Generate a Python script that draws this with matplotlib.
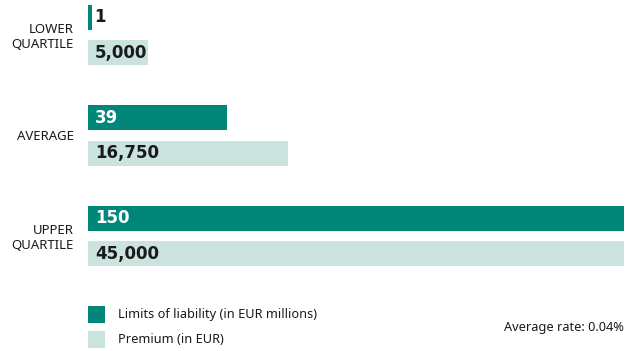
import matplotlib.pyplot as plt
from matplotlib.patches import Rectangle

plt.rcParams['font.family'] = ['Noto Sans', 'DejaVu Sans']

categories = ['LOWER\nQUARTILE', 'AVERAGE', 'UPPER\nQUARTILE']
limits = [1, 39, 150]            # EUR millions
premiums = [5000, 16750, 45000]  # EUR
limit_labels = ['1', '39', '150']
premium_labels = ['5,000', '16,750', '45,000']

DARK = '#00877a'
LIGHT = '#cae3df'
TEXT = '#1a1a1a'
VALUE_FONT = dict(family='DejaVu Sans', fontsize=12, fontweight='bold',
                  va='center', ha='left')

W, H = 638, 351
fig = plt.figure(figsize=(W / 100, H / 100), dpi=100)

# both series share one strip of the figure, each scaled to its own maximum
rect = [88 / W, (H - 300) / H, 536 / W, 300 / H]
ax_lim = fig.add_axes(rect)
ax_pre = fig.add_axes(rect, sharey=ax_lim)
ax_pre.patch.set_visible(False)

pos = list(range(len(categories)))
off = 0.175
h = 0.249

ax_lim.barh([p - off for p in pos], limits, height=h, color=DARK)
ax_pre.barh([p + off for p in pos], premiums, height=h, color=LIGHT)

ax_lim.set_xlim(0, max(limits))
ax_pre.set_xlim(0, max(premiums))
ax_lim.set_ylim(2.637, -0.348)

# value labels: inside the bar if it is wide enough, else just past its end
pad_lim = max(limits) * 7 / 536
pad_pre = max(premiums) * 7 / 536
for p, v, s in zip(pos, limits, limit_labels):
    if v / max(limits) > 0.1:
        ax_lim.text(pad_lim, p - off, s, color='white', **VALUE_FONT)
    else:
        ax_lim.text(v + max(limits) * 3 / 536, p - off, s, color=TEXT,
                    **VALUE_FONT)
for p, v, s in zip(pos, premiums, premium_labels):
    ax_pre.text(pad_pre, p + off, s, color=TEXT, **VALUE_FONT)

ax_lim.set_yticks(pos)
ax_lim.set_yticklabels(categories, fontsize=9.5, color=TEXT, ha='right',
                       multialignment='right', linespacing=1.15)
ax_lim.tick_params(axis='y', length=0, pad=10)
for a in (ax_lim, ax_pre):
    a.set_xticks([])
    for sp in a.spines.values():
        sp.set_visible(False)
ax_pre.tick_params(axis='y', left=False, labelleft=False)

# legend drawn by hand in figure pixels
for y0, col, lab in [(306, DARK, 'Limits of liability (in EUR millions)'),
                     (331, LIGHT, 'Premium (in EUR)')]:
    fig.add_artist(Rectangle((88 / W, (H - y0 - 17) / H), 17 / W, 17 / H,
                             transform=fig.transFigure, color=col, lw=0))
    fig.text(118 / W, (H - y0 - 8.5) / H, lab, fontsize=9.2, color=TEXT,
             va='center', ha='left')

fig.text(624 / W, (H - 327) / H, 'Average rate: 0.04%', fontsize=9.2,
         color=TEXT, va='center', ha='right')

fig.savefig('out.png', dpi=100)
